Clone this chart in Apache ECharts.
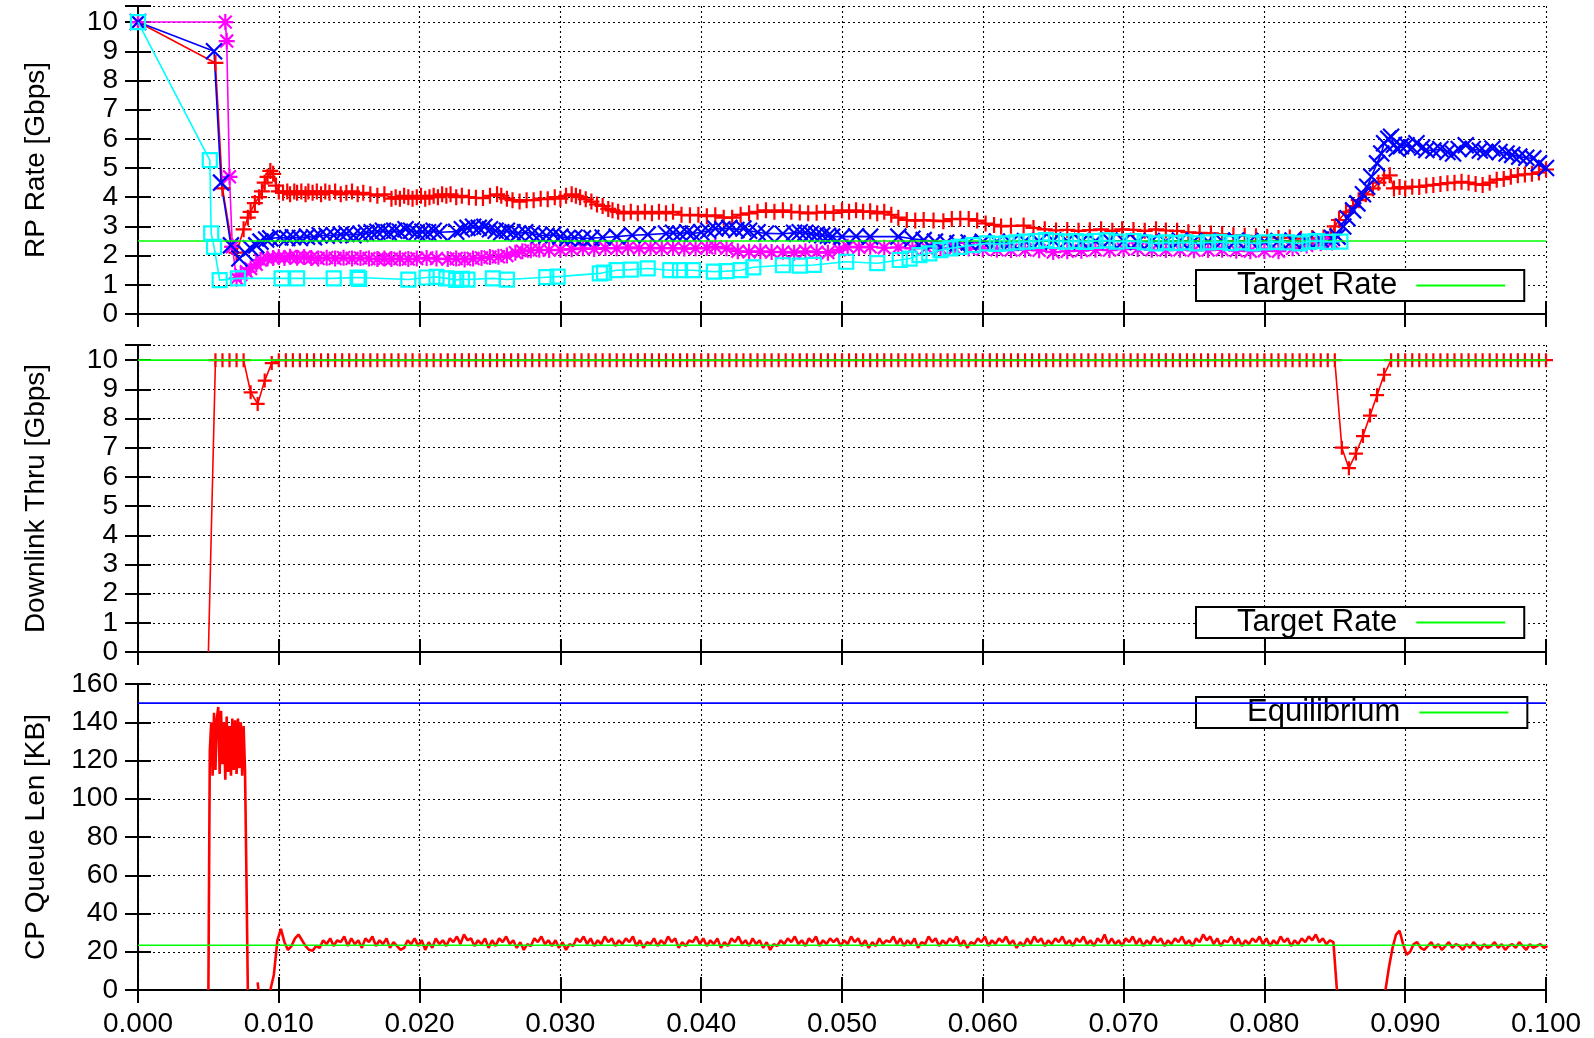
<!DOCTYPE html>
<html>
<head>
<meta charset="utf-8">
<script src="https://cdn.jsdelivr.net/npm/echarts@6/dist/echarts.min.js"></script>
<style>
html,body{margin:0;padding:0;background:#fff;}
#chart{width:1594px;height:1038px;}
</style>
</head>
<body>
<div id="chart"></div>
<script>
// ---------- DATA ----------
const xTicks = [0, 0.01, 0.02, 0.03, 0.04, 0.05, 0.06, 0.07, 0.08, 0.09, 0.1];

// Panel 1: RP Rate [Gbps]  ([time s, rate])
const rpRed = [[0.0000,10.0],[0.0055,8.6],[0.0060,4.3],[0.0067,2.3],[0.0070,2.1],[0.0075,2.9],[0.0078,3.3],[0.0080,3.5],[0.0083,3.8],[0.0086,4.0],[0.0088,4.2],[0.0090,4.5],[0.0092,4.7],[0.0094,4.9],[0.0096,4.8],[0.0098,4.4],[0.0100,4.2],[0.0103,4.15],[0.0106,4.2],[0.0108,4.1],[0.0111,4.2],[0.0113,4.15],[0.0116,4.2],[0.0119,4.1],[0.0121,4.2],[0.0124,4.15],[0.0127,4.2],[0.0130,4.1],[0.0133,4.2],[0.0136,4.15],[0.0140,4.2],[0.0144,4.1],[0.0148,4.15],[0.0152,4.2],[0.0156,4.1],[0.0160,4.15],[0.0165,4.1],[0.0170,4.05],[0.0175,4.1],[0.0180,3.95],[0.0183,4.0],[0.0186,3.95],[0.0189,4.05],[0.0192,4.0],[0.0195,3.95],[0.0198,4.0],[0.0201,4.05],[0.0204,3.95],[0.0207,4.0],[0.0210,4.05],[0.0213,4.0],[0.0216,4.1],[0.0219,4.05],[0.0222,4.1],[0.0226,4.0],[0.0230,4.05],[0.0235,4.0],[0.0240,3.98],[0.0245,3.97],[0.0250,4.05],[0.0255,4.1],[0.0258,4.05],[0.0262,3.95],[0.0266,3.9],[0.0271,3.85],[0.0276,3.9],[0.0281,3.9],[0.0286,3.95],[0.0291,3.93],[0.0296,4.0],[0.0300,3.95],[0.0304,4.05],[0.0308,4.1],[0.0311,4.05],[0.0314,4.0],[0.0318,3.93],[0.0322,3.85],[0.0326,3.75],[0.0330,3.7],[0.0334,3.6],[0.0337,3.55],[0.0341,3.5],[0.0345,3.45],[0.0350,3.5],[0.0355,3.45],[0.0360,3.5],[0.0365,3.45],[0.0370,3.5],[0.0375,3.45],[0.0380,3.5],[0.0386,3.4],[0.0392,3.38],[0.0398,3.4],[0.0404,3.35],[0.0410,3.38],[0.0416,3.3],[0.0422,3.3],[0.0428,3.4],[0.0434,3.45],[0.0440,3.5],[0.0446,3.55],[0.0452,3.5],[0.0458,3.55],[0.0464,3.5],[0.0470,3.48],[0.0476,3.45],[0.0482,3.47],[0.0488,3.5],[0.0494,3.46],[0.0500,3.55],[0.0505,3.5],[0.0510,3.55],[0.0515,3.5],[0.0520,3.52],[0.0525,3.45],[0.0530,3.5],[0.0535,3.4],[0.0540,3.3],[0.0546,3.22],[0.0552,3.2],[0.0558,3.22],[0.0565,3.2],[0.0572,3.18],[0.0578,3.25],[0.0584,3.26],[0.0590,3.25],[0.0596,3.2],[0.0602,3.1],[0.0608,3.05],[0.0613,3.0],[0.0620,3.02],[0.0629,3.03],[0.0636,2.95],[0.0644,2.9],[0.0652,2.86],[0.0660,2.88],[0.0668,2.85],[0.0676,2.87],[0.0684,2.9],[0.0692,2.85],[0.0699,2.9],[0.0707,2.88],[0.0715,2.85],[0.0723,2.9],[0.0730,2.86],[0.0738,2.85],[0.0746,2.8],[0.0754,2.78],[0.0762,2.76],[0.0770,2.74],[0.0778,2.7],[0.0786,2.68],[0.0794,2.66],[0.0802,2.65],[0.0810,2.6],[0.0818,2.62],[0.0826,2.58],[0.0834,2.6],[0.0842,2.62],[0.0847,2.7],[0.0850,3.0],[0.0853,3.22],[0.0858,3.5],[0.0863,3.7],[0.0867,3.9],[0.0872,4.1],[0.0877,4.3],[0.0881,4.5],[0.0885,4.65],[0.0889,4.75],[0.0892,4.3],[0.0896,4.35],[0.0900,4.3],[0.0905,4.36],[0.0910,4.35],[0.0915,4.4],[0.0920,4.42],[0.0925,4.45],[0.0930,4.48],[0.0935,4.5],[0.0940,4.53],[0.0945,4.5],[0.0950,4.45],[0.0955,4.42],[0.0960,4.5],[0.0965,4.6],[0.0970,4.62],[0.0975,4.7],[0.0980,4.75],[0.0985,4.78],[0.0990,4.8],[0.0995,4.85],[0.1000,4.95]];

const rpBlue = [[0,10],[0.0054,9.0],[0.0059,4.5],[0.0066,2.35],[0.0072,1.9],[0.0076,2.1],[0.0080,2.25],[0.0084,2.35],[0.0087,2.48],[0.0091,2.55],[0.0094,2.59],[0.0101,2.62],[0.0106,2.6],[0.0110,2.63],[0.0115,2.6],[0.0120,2.65],[0.0125,2.63],[0.0129,2.7],[0.0134,2.68],[0.0139,2.7],[0.0144,2.72],[0.0148,2.75],[0.0153,2.7],[0.0158,2.75],[0.0162,2.78],[0.0166,2.8],[0.0170,2.82],[0.0174,2.85],[0.0178,2.8],[0.0182,2.85],[0.0186,2.82],[0.0190,2.9],[0.0194,2.85],[0.0198,2.8],[0.0202,2.82],[0.0206,2.8],[0.0210,2.85],[0.0214,2.8],[0.0226,2.82],[0.0230,2.9],[0.0234,2.95],[0.0238,2.99],[0.0242,2.95],[0.0246,2.99],[0.0250,2.9],[0.0254,2.85],[0.0258,2.8],[0.0262,2.85],[0.0266,2.8],[0.0270,2.76],[0.0275,2.8],[0.0280,2.76],[0.0285,2.7],[0.0290,2.68],[0.0295,2.72],[0.0300,2.65],[0.0305,2.6],[0.0310,2.62],[0.0316,2.59],[0.0322,2.6],[0.0330,2.62],[0.0340,2.65],[0.0351,2.7],[0.0362,2.72],[0.0375,2.76],[0.0380,2.78],[0.0385,2.75],[0.0390,2.8],[0.0394,2.76],[0.0400,2.8],[0.0405,2.85],[0.0410,2.93],[0.0415,2.9],[0.0420,2.95],[0.0425,2.88],[0.0430,2.93],[0.0434,2.85],[0.0440,2.8],[0.0446,2.76],[0.0458,2.75],[0.0466,2.78],[0.0470,2.8],[0.0474,2.78],[0.0478,2.75],[0.0482,2.72],[0.0486,2.7],[0.0490,2.68],[0.0493,2.65],[0.0500,2.65],[0.0510,2.66],[0.0520,2.65],[0.0540,2.65],[0.0550,2.58],[0.0558,2.53],[0.0566,2.48],[0.0574,2.45],[0.0582,2.42],[0.0590,2.45],[0.0600,2.47],[0.0610,2.48],[0.0620,2.45],[0.0630,2.5],[0.0640,2.48],[0.0650,2.52],[0.0660,2.5],[0.0670,2.48],[0.0680,2.5],[0.0690,2.52],[0.0700,2.5],[0.0710,2.47],[0.0720,2.5],[0.0730,2.48],[0.0740,2.52],[0.0750,2.5],[0.0760,2.48],[0.0770,2.5],[0.0780,2.52],[0.0790,2.5],[0.0800,2.48],[0.0810,2.5],[0.0820,2.52],[0.0830,2.5],[0.0840,2.55],[0.0848,2.6],[0.0852,2.65],[0.0856,3.0],[0.0859,3.28],[0.0863,3.55],[0.0866,3.79],[0.0870,4.1],[0.0873,4.36],[0.0876,4.7],[0.0880,5.16],[0.0883,5.5],[0.0885,5.85],[0.0888,6.0],[0.0890,6.07],[0.0892,5.8],[0.0894,5.67],[0.0897,5.75],[0.0901,5.78],[0.0905,5.7],[0.0908,5.85],[0.0912,5.7],[0.0915,5.62],[0.0920,5.6],[0.0925,5.65],[0.0930,5.55],[0.0934,5.5],[0.0938,5.65],[0.0943,5.78],[0.0948,5.65],[0.0953,5.6],[0.0957,5.55],[0.0962,5.67],[0.0967,5.55],[0.0972,5.5],[0.0976,5.45],[0.0981,5.39],[0.0986,5.35],[0.0991,5.33],[0.0995,5.16],[0.1000,5.0]];

const rpMagenta = [[0,10],[0.0062,10],[0.0063,9.35],[0.0065,4.7],[0.0067,2.3],[0.0070,1.22],[0.0073,1.35],[0.0077,1.45],[0.0080,1.56],[0.0084,1.7],[0.0087,1.85],[0.0092,1.9],[0.0096,1.92],[0.0100,1.95],[0.0104,1.92],[0.0108,1.96],[0.0113,1.93],[0.0118,1.95],[0.0123,1.92],[0.0128,1.9],[0.0134,1.93],[0.0140,1.9],[0.0146,1.93],[0.0152,1.9],[0.0158,1.92],[0.0164,1.9],[0.0170,1.88],[0.0175,1.9],[0.0180,1.88],[0.0186,1.9],[0.0192,1.88],[0.0198,1.9],[0.0205,1.92],[0.0212,1.9],[0.0220,1.88],[0.0226,1.9],[0.0232,1.87],[0.0238,1.9],[0.0244,1.92],[0.0250,1.95],[0.0256,1.96],[0.0262,2.0],[0.0268,2.1],[0.0273,2.15],[0.0279,2.18],[0.0285,2.2],[0.0292,2.19],[0.0300,2.2],[0.0308,2.22],[0.0316,2.25],[0.0324,2.23],[0.0332,2.26],[0.0340,2.25],[0.0348,2.28],[0.0356,2.25],[0.0364,2.27],[0.0372,2.25],[0.0380,2.26],[0.0388,2.24],[0.0396,2.25],[0.0404,2.27],[0.0410,2.3],[0.0418,2.25],[0.0426,2.15],[0.0434,2.13],[0.0442,2.15],[0.0450,2.12],[0.0458,2.13],[0.0466,2.1],[0.0474,2.15],[0.0482,2.12],[0.0490,2.1],[0.0498,2.2],[0.0504,2.3],[0.0512,2.28],[0.0520,2.3],[0.0530,2.27],[0.0540,2.28],[0.0550,2.25],[0.0560,2.27],[0.0570,2.25],[0.0580,2.26],[0.0590,2.24],[0.0600,2.22],[0.0610,2.2],[0.0620,2.19],[0.0630,2.2],[0.0640,2.18],[0.0650,2.12],[0.0660,2.15],[0.0670,2.17],[0.0680,2.2],[0.0690,2.19],[0.0700,2.22],[0.0710,2.23],[0.0720,2.2],[0.0730,2.19],[0.0740,2.2],[0.0750,2.18],[0.0760,2.19],[0.0770,2.2],[0.0780,2.17],[0.0790,2.15],[0.0800,2.16],[0.0810,2.15],[0.0820,2.25],[0.0830,2.35],[0.0840,2.42],[0.0848,2.45]];

const rpCyan = [[0,10],[0.0051,5.27],[0.0052,2.76],[0.0054,2.3],[0.0058,1.16],[0.0071,1.22],[0.0102,1.22],[0.0113,1.22],[0.0139,1.22],[0.0156,1.25],[0.0157,1.2],[0.0192,1.18],[0.0205,1.25],[0.0212,1.27],[0.0219,1.22],[0.0226,1.17],[0.0230,1.2],[0.0234,1.18],[0.0252,1.22],[0.0262,1.18],[0.0290,1.26],[0.0298,1.28],[0.0328,1.39],[0.0331,1.42],[0.0340,1.5],[0.0350,1.52],[0.0362,1.56],[0.0378,1.5],[0.0385,1.5],[0.0394,1.5],[0.0409,1.45],[0.0418,1.47],[0.0428,1.5],[0.0437,1.6],[0.0458,1.67],[0.0470,1.66],[0.0480,1.68],[0.0503,1.79],[0.0525,1.74],[0.0541,1.85],[0.0548,1.9],[0.0555,2.02],[0.0562,2.08],[0.0570,2.19],[0.0577,2.25],[0.0584,2.3],[0.0593,2.36],[0.0603,2.42],[0.0610,2.4],[0.0617,2.42],[0.0624,2.45],[0.0631,2.48],[0.0638,2.5],[0.0645,2.53],[0.0652,2.5],[0.0659,2.48],[0.0666,2.5],[0.0673,2.47],[0.0680,2.5],[0.0688,2.52],[0.0695,2.48],[0.0707,2.5],[0.0715,2.45],[0.0723,2.42],[0.0730,2.45],[0.0737,2.43],[0.0744,2.45],[0.0752,2.42],[0.0760,2.45],[0.0768,2.47],[0.0776,2.43],[0.0784,2.45],[0.0792,2.42],[0.0800,2.45],[0.0808,2.47],[0.0816,2.45],[0.0825,2.42],[0.0832,2.48],[0.0837,2.5],[0.0845,2.47],[0.0854,2.48]];

const targetRate1 = 2.5;   // Gbps
const targetRate2 = 10;    // Gbps

// Panel 2: Downlink throughput, sampled every 0.5 ms from 5.0 ms
const dlStart = 0.0050, dlStep = 0.0005;
const dlValues = [
  0,10,10,10,10,10,8.9,8.5,9.3,9.9,
  10,10,10,10,10,10,10,10,10,10,10,10,10,10,10,10,10,10,10,10,
  10,10,10,10,10,10,10,10,10,10,10,10,10,10,10,10,10,10,10,10,
  10,10,10,10,10,10,10,10,10,10,10,10,10,10,10,10,10,10,10,10,
  10,10,10,10,10,10,10,10,10,10,10,10,10,10,10,10,10,10,10,10,
  10,10,10,10,10,10,10,10,10,10,10,10,10,10,10,10,10,10,10,10,
  10,10,10,10,10,10,10,10,10,10,10,10,10,10,10,10,10,10,10,10,
  10,10,10,10,10,10,10,10,10,10,10,10,10,10,10,10,10,10,10,10,
  10,10,10,10,10,10,10,10,10,10,10,
  7.0,6.3,6.8,7.4,8.1,8.8,9.5,
  10,10,10,10,10,10,10,10,10,10,10,10,10,10,10,10,10,10,10,10,10,10,10
];

// Panel 3: CP queue length [KB]
const qEquilibrium = 23.4;
const qMax = 150;
const qBurstStart = 0.0050, qBurstStep = 0.0001;
const qBurst = [0,125,140,112,145,115,142,148,113,146,118,140,110,143,114,138,112,142,115,141,113,142,116,140,112,138,115,60,0];
const qSpike = [[0.0085,4],[0.00855,0]];
const qMainStart = 0.0094, qMainStep = 0.00025;
const qMain = [
  0,8,26,32,25,21,23,27,29,26,23,21,20.5,23,22,26,24,27,23,26,
  25,28,23,27,24,26,22,27,25,28,23,26,24,27,22,25,23,21,22,26,
  24,27,23,26,21,25,22,27,24,26,23,27,25,28,24,29,26,27,23,26,
  24,27,22,26,23,27,25,28,24,26,22,25,21,24,23,27,25,28,24,26,
  23,26,22,25,21,24,23,27,25,28,24,27,23,26,24,28,25,27,23,26,
  24,27,25,28,23,26,22,25,24,27,23,26,24,28,25,27,22,25,23,26,
  25,28,24,27,23,26,24,27,22,25,23,27,25,28,24,26,23,27,24,26,
  22,25,21,24,23,26,24,27,25,28,24,26,23,27,25,28,23,26,24,27,
  25,27,23,26,24,28,25,27,23,26,22,25,23,27,24,26,25,28,24,27,
  23,26,24,27,22,25,24,28,25,27,23,26,24,27,25,28,23,26,22,25,
  24,27,25,28,23,26,24,27,25,28,24,26,22,25,23,27,24,28,25,27,
  23,26,24,27,25,28,24,26,23,27,25,28,24,26,23,27,25,29,24,27,
  24,26,23,27,25,28,24,27,23,26,24,28,25,27,23,26,24,27,25,28,
  24,26,23,27,25,29,26,28,24,27,23,26,25,28,24,27,23,26,24,27,
  25,28,24,27,23,26,24,28,25,27,23,26,24,27,25,28,26,29,25,27,
  24,26,25,0
];
const qTailStart = 0.0886, qTailStep = 0.00025;
const qTail = [0,12,22,29,31,24,18.5,20,24,25,22,21,23,25,22,24,21,23,25,22,24,23,21,24,22,25,23,21,24,22,23,25,22,24,21,23,24,22,25,23,21,24,22,23,24,22,23];

// ---------- BUILD ----------
const FONT = '"Liberation Sans", Arial, Helvetica, sans-serif';
const seq = (start, step, vals) => vals.map((v, i) => [+(start + i * step).toFixed(6), v]);

const dlData = seq(dlStart, dlStep, dlValues).map((p, i) => i === 0 ? {value: p, symbol: 'none'} : p);
const qData = [].concat(
  seq(qBurstStart, qBurstStep, qBurst), [[0.0080, null]],
  qSpike, [[0.0088, null]],
  seq(qMainStart, qMainStep, qMain), [[0.0860, null]],
  seq(qTailStart, qTailStep, qTail)
);

const SYM_PLUS = 'path://M0,5L10,5M5,0L5,10';
const SYM_X = 'path://M0,0L10,10M10,0L0,10';
const SYM_STAR = 'path://M0,5L10,5M5,0L5,10M1,1L9,9M9,1L1,9M0,0L0,0M10,10L10,10';

const grids = [
  {left: 138, top: 6, width: 1408, height: 308},
  {left: 138, top: 345, width: 1408, height: 307},
  {left: 138, top: 684, width: 1408, height: 307}
];
const yRanges = [
  {max: 10.55, interval: 1},
  {max: 10.52, interval: 1},
  {max: 160, interval: 20}
];
const yNames = ['RP Rate [Gbps]', 'Downlink Thru [Gbps]', 'CP Queue Len [KB]'];

const axisLineStyle = {show: true, lineStyle: {color: '#000', width: 2}};
const tickStyle = {show: true, inside: true, length: 13, lineStyle: {color: '#000', width: 2}};
const gridLine = {show: true, lineStyle: {color: '#000', width: 1.1, type: [2, 3]}};

const xAxes = [], yAxes = [];
grids.forEach((g, gi) => {
  xAxes.push({
    type: 'value', gridIndex: gi, position: 'bottom', min: 0, max: 0.1, interval: 0.01,
    axisLine: axisLineStyle, axisTick: tickStyle, splitLine: gridLine,
    axisLabel: {show: gi === 2, margin: 20, fontSize: 28, color: '#000', fontFamily: FONT,
      formatter: v => v.toFixed(3)}
  });
  xAxes.push({
    type: 'value', gridIndex: gi, position: 'top', min: 0, max: 0.1, interval: 0.01,
    axisLine: axisLineStyle, axisTick: tickStyle, splitLine: {show: false}, axisLabel: {show: false}
  });
  const yr = yRanges[gi];
  yAxes.push({
    type: 'value', gridIndex: gi, position: 'left', min: 0, max: yr.max, interval: yr.interval,
    name: yNames[gi], nameLocation: 'middle', nameGap: 88, nameRotate: 90,
    nameTextStyle: {fontSize: 28, color: '#000', fontFamily: FONT},
    axisLine: axisLineStyle, axisTick: tickStyle, splitLine: gridLine,
    axisLabel: {margin: 20, fontSize: 28, color: '#000', fontFamily: FONT,
      formatter: v => (Math.abs(v / yr.interval - Math.round(v / yr.interval)) < 1e-6) ? String(Math.round(v)) : ''}
  });
  yAxes.push({
    type: 'value', gridIndex: gi, position: 'right', min: 0, max: yr.max, interval: yr.interval,
    axisLine: axisLineStyle, axisTick: tickStyle, splitLine: {show: false}, axisLabel: {show: false}
  });
});

function markSeries(name, data, color, symbol, size, xi, yi, z) {
  return {
    name: name, type: 'line', data: data, xAxisIndex: xi, yAxisIndex: yi, z: z,
    symbol: symbol, symbolSize: size, showAllSymbol: true, clip: true,
    lineStyle: {color: color, width: 1.6},
    itemStyle: {color: 'rgba(0,0,0,0)', borderColor: color, borderWidth: 2.2},
    emphasis: {disabled: true}, animation: false
  };
}
function plainLine(name, data, color, xi, yi, z, w) {
  return {
    name: name, type: 'line', data: data, xAxisIndex: xi, yAxisIndex: yi, z: z,
    symbol: 'none', clip: true, connectNulls: false,
    lineStyle: {color: color, width: w || 1.3}, itemStyle: {color: color},
    emphasis: {disabled: true}, animation: false
  };
}

const series = [
  markSeries('RP1', rpRed, '#ff0000', SYM_PLUS, 16, 0, 0, 2),
  markSeries('RP3', rpMagenta, '#ff00ff', SYM_STAR, 16, 0, 0, 2),
  markSeries('RP2', rpBlue, '#0000ff', SYM_X, 16, 0, 0, 2),
  plainLine('Target Rate', [[0, targetRate1], [0.1, targetRate1]], '#00ff00', 0, 0, 3, 1.6),
  markSeries('RP4', rpCyan, '#00ffff', 'rect', 14, 0, 0, 3),

  markSeries('Downlink', dlData, '#ff0000', SYM_PLUS, 14, 2, 2, 2),
  plainLine('Target Rate', [[0, targetRate2], [0.1, targetRate2]], '#00ff00', 2, 2, 3, 1.6),

  plainLine('Queue', qData, '#ff0000', 4, 4, 2, 2.6),
  plainLine('Equilibrium', [[0, qEquilibrium], [0.1, qEquilibrium]], '#00ff00', 4, 4, 3, 1.6),
  plainLine('Max', [[0, qMax], [0.1, qMax]], '#0000ff', 4, 4, 6, 1.6)
];

function legendAt(name, top, padLeft) {
  return {
    data: [{name: name, icon: 'rect'}], left: 1196, top: top, orient: 'horizontal', align: 'right',
    itemWidth: 89, itemHeight: 2, itemGap: 0,
    padding: [0, 19, 0, padLeft], borderColor: '#000', borderWidth: 2, borderRadius: 0,
    backgroundColor: '#fff', selectedMode: false,
    textStyle: {fontSize: 31, color: '#000', fontFamily: FONT, lineHeight: 31, padding: [0, 14, 0, 0]}
  };
}

const chart = echarts.init(document.getElementById('chart'), null, {renderer: 'canvas'});
chart.setOption({
  backgroundColor: '#fff',
  animation: false,
  grid: grids,
  xAxis: xAxes,
  yAxis: yAxes,
  legend: [legendAt('Target Rate', 270, 41), legendAt('Target Rate', 607, 41), legendAt('Equilibrium', 697, 51)],
  series: series
});
</script>
</body>
</html>
